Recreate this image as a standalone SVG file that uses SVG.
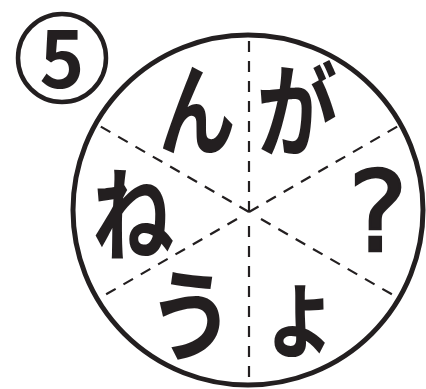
<svg xmlns="http://www.w3.org/2000/svg" width="426" height="389" viewBox="0 0 426 389">
<style>
.ring{fill:none;stroke:#231f20;stroke-width:5}
.dash{fill:none;stroke:#231f20;stroke-width:2.2;stroke-dasharray:11 9}
.k{font-family:"Noto Sans CJK JP","Noto Sans",sans-serif;font-weight:bold;fill:#231f20;text-anchor:middle}
.q{font-family:"DejaVu Sans",sans-serif;font-weight:normal;fill:#231f20;stroke:#231f20;stroke-width:2.5;stroke-linejoin:miter;text-anchor:middle}
</style>
<rect width="426" height="389" fill="#fff"/>
<g id="badge">
<circle cx="62" cy="58" r="44" fill="none" stroke="#231f20" stroke-width="4.5"/>
<text class="k" transform="translate(62 88) scale(0.95 1)" font-size="80">5</text>
</g>
<g id="wheel">
<circle class="ring" cx="248" cy="210" r="175"/>
</g>
<g id="connectors">
<path class="dash" d="M249 212 L249 36"/>
<path class="dash" d="M249 212 L98 125"/>
<path class="dash" d="M249 212 L400 125"/>
<path class="dash" d="M249 226 L249 384"/>
<path class="dash" d="M237 219 L98 299"/>
<path class="dash" d="M261 219 L400 299"/>
</g>
<g id="n1"><text class="k" transform="translate(197 148) scale(0.76 1)" font-size="101">ん</text></g>
<g id="n2"><text class="k" transform="translate(297 149) scale(0.79 1)" font-size="102">が</text></g>
<g id="n3"><text class="k" transform="translate(133 253) scale(0.8 1)" font-size="102">ね</text></g>
<g id="n4"><text class="q" x="378" y="251" font-size="113">?</text></g>
<g id="n5"><text class="k" transform="translate(191 353) scale(0.88 1)" font-size="100">う</text></g>
<g id="n6"><text class="k" transform="translate(300 349) scale(0.8 1)" font-size="100">ょ</text></g>
</svg>
